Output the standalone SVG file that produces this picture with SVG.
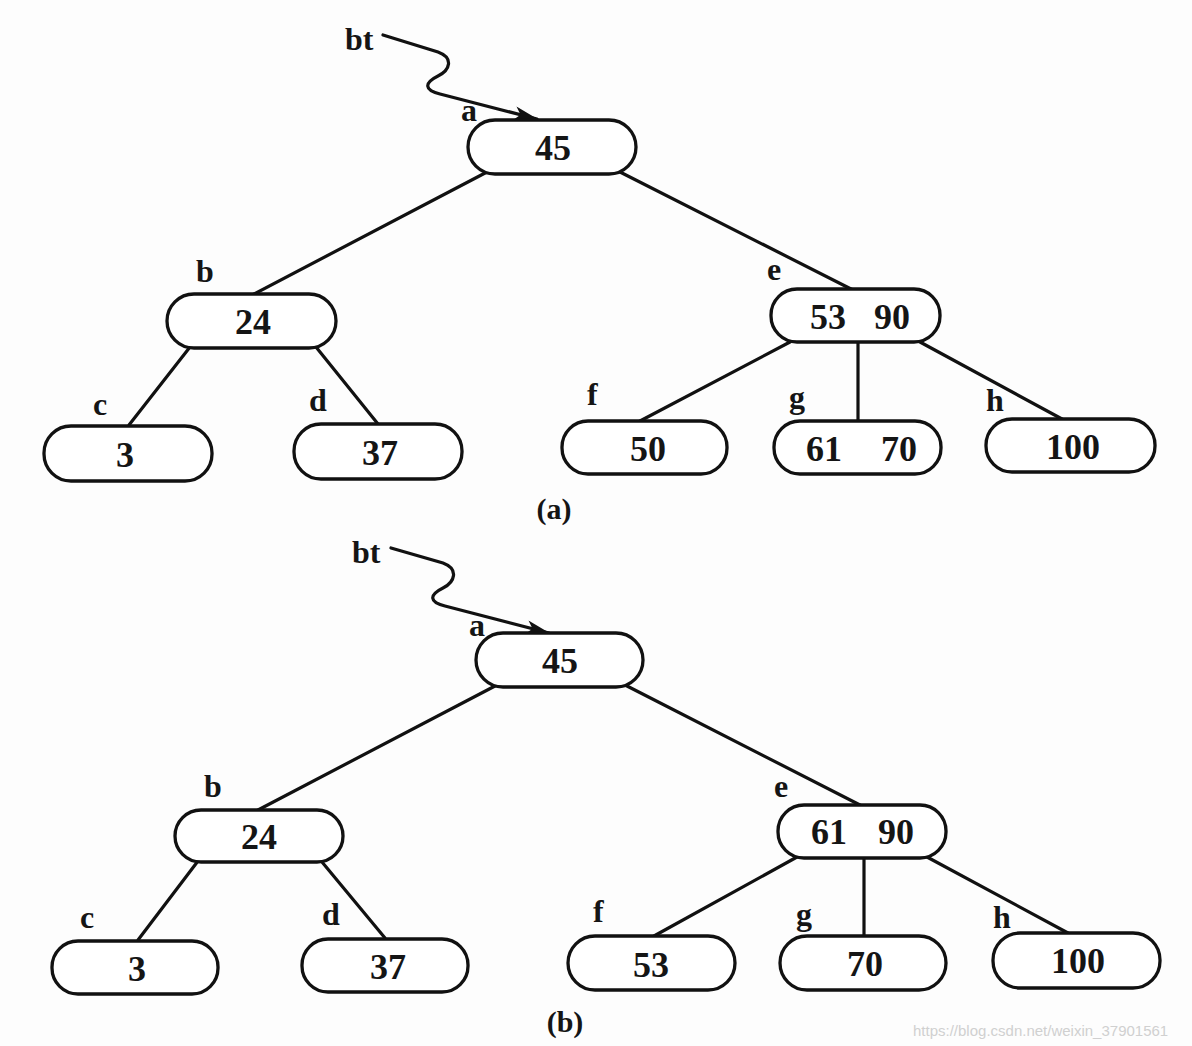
<svg xmlns="http://www.w3.org/2000/svg" width="1192" height="1046" viewBox="0 0 1192 1046">
<style>
.node rect{fill:#fff;stroke:#111;stroke-width:3.3}
.val{font-family:"Liberation Serif","DejaVu Serif",serif;font-size:36px;font-weight:bold;fill:#151515;text-anchor:middle}
.lbl{font-family:"Liberation Serif","DejaVu Serif",serif;font-size:32px;font-weight:bold;fill:#151515}
.edge{stroke:#111;stroke-width:3.2;fill:none;stroke-linecap:round}
.cap{font-family:"Liberation Serif","DejaVu Serif",serif;font-size:30px;font-weight:bold;fill:#151515;text-anchor:middle}
.wm{font-family:"Liberation Sans",Arial,sans-serif;font-size:15px;fill:#d0d0d0}
</style>
<defs>
<marker id="arr" viewBox="0 0 24 14" refX="23" refY="7" markerWidth="24" markerHeight="14" markerUnits="userSpaceOnUse" orient="auto">
<path d="M0,0 L24,7 L0,14 L6,7 Z" fill="#111"/>
</marker>
</defs>
<rect width="1192" height="1046" fill="#fdfdfd"/>

<g id="connectors">
<!-- (a) -->
<path class="edge" marker-end="url(#arr)" d="M383,35 L438,52 C454,58 450,70 438,76 C424,83 424,90 440,94 L537,119"/>
<line class="edge" x1="487" y1="172" x2="254" y2="294"/>
<line class="edge" x1="620" y1="172" x2="853" y2="290"/>
<line class="edge" x1="190" y1="347" x2="129" y2="425"/>
<line class="edge" x1="316" y1="347" x2="378" y2="424"/>
<line class="edge" x1="790" y1="342" x2="640" y2="421"/>
<line class="edge" x1="858" y1="342" x2="858" y2="420"/>
<line class="edge" x1="920" y1="342" x2="1062" y2="419"/>
<!-- (b) -->
<path class="edge" marker-end="url(#arr)" d="M391,548 L443,563 C459,569 455,582 443,588 C429,595 429,602 445,606 L549,633"/>
<line class="edge" x1="495" y1="686" x2="258" y2="810"/>
<line class="edge" x1="627" y1="686" x2="860" y2="805"/>
<line class="edge" x1="198" y1="861" x2="138" y2="940"/>
<line class="edge" x1="322" y1="862" x2="385" y2="938"/>
<line class="edge" x1="797" y1="857" x2="654" y2="936"/>
<line class="edge" x1="864" y1="858" x2="864" y2="935"/>
<line class="edge" x1="927" y1="857" x2="1068" y2="933"/>
</g>

<!-- Diagram (a) -->
<text class="lbl" x="345" y="50">bt</text>
<g id="a-a" class="node"><rect x="468" y="120" width="168" height="54" rx="27"/><text class="lbl" x="461" y="121">a</text><text class="val" x="553" y="160">45</text></g>
<g id="a-b" class="node"><rect x="167" y="294" width="169" height="54" rx="27"/><text class="lbl" x="196" y="282">b</text><text class="val" x="253" y="334">24</text></g>
<g id="a-c" class="node"><rect x="44" y="426" width="168" height="55" rx="27"/><text class="lbl" x="93" y="415">c</text><text class="val" x="125" y="467">3</text></g>
<g id="a-d" class="node"><rect x="294" y="424" width="168" height="55" rx="27"/><text class="lbl" x="309" y="411">d</text><text class="val" x="380" y="465">37</text></g>
<g id="a-e" class="node"><rect x="771" y="289" width="169" height="53" rx="26"/><text class="lbl" x="767" y="280">e</text><text class="val"><tspan x="828" y="329">53</tspan><tspan x="892" y="329">90</tspan></text></g>
<g id="a-f" class="node"><rect x="562" y="421" width="165" height="53" rx="26"/><text class="lbl" x="587" y="405">f</text><text class="val" x="648" y="461">50</text></g>
<g id="a-g" class="node"><rect x="774" y="421" width="167" height="53" rx="26"/><text class="lbl" x="789" y="408">g</text><text class="val"><tspan x="824" y="461">61</tspan><tspan x="899" y="461">70</tspan></text></g>
<g id="a-h" class="node"><rect x="986" y="419" width="169" height="53" rx="26"/><text class="lbl" x="986" y="411">h</text><text class="val" x="1073" y="459">100</text></g>
<text class="cap" x="554" y="519">(a)</text>

<!-- Diagram (b) -->
<text class="lbl" x="352" y="563">bt</text>
<g id="b-a" class="node"><rect x="476" y="633" width="167" height="54" rx="27"/><text class="lbl" x="469" y="636">a</text><text class="val" x="560" y="673">45</text></g>
<g id="b-b" class="node"><rect x="175" y="810" width="168" height="52" rx="26"/><text class="lbl" x="204" y="797">b</text><text class="val" x="259" y="849">24</text></g>
<g id="b-c" class="node"><rect x="52" y="941" width="166" height="53" rx="26"/><text class="lbl" x="80" y="928">c</text><text class="val" x="137" y="981">3</text></g>
<g id="b-d" class="node"><rect x="302" y="939" width="166" height="53" rx="26"/><text class="lbl" x="322" y="925">d</text><text class="val" x="388" y="979">37</text></g>
<g id="b-e" class="node"><rect x="778" y="805" width="168" height="53" rx="26"/><text class="lbl" x="774" y="797">e</text><text class="val"><tspan x="829" y="844">61</tspan><tspan x="896" y="844">90</tspan></text></g>
<g id="b-f" class="node"><rect x="568" y="936" width="167" height="54" rx="27"/><text class="lbl" x="593" y="922">f</text><text class="val" x="651" y="977">53</text></g>
<g id="b-g" class="node"><rect x="780" y="936" width="166" height="54" rx="27"/><text class="lbl" x="796" y="925">g</text><text class="val" x="865" y="976">70</text></g>
<g id="b-h" class="node"><rect x="993" y="933" width="167" height="55" rx="27"/><text class="lbl" x="993" y="928">h</text><text class="val" x="1078" y="973">100</text></g>
<text class="cap" x="565" y="1032">(b)</text>

<text class="wm" x="913" y="1036">https://blog.csdn.net/weixin_37901561</text>
</svg>
